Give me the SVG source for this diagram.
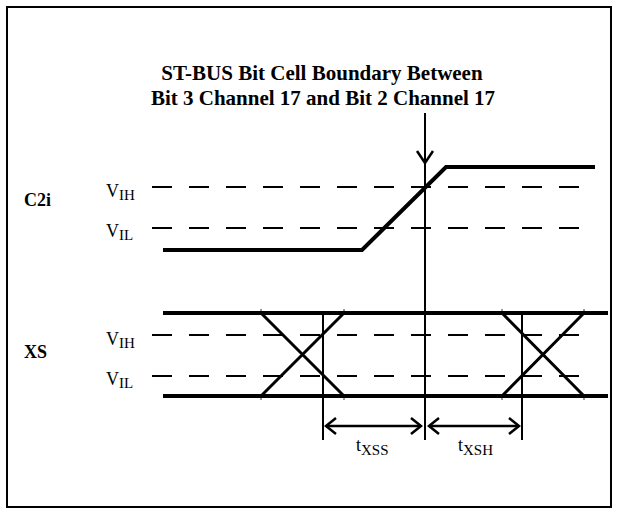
<svg xmlns="http://www.w3.org/2000/svg" width="619" height="521" viewBox="0 0 619 521">
<style>
.t{font-family:"Liberation Serif","Times New Roman",serif;fill:#000}
.b{font-weight:bold}
.sig{fill:none;stroke:#000;stroke-width:4;stroke-linejoin:miter}
.x{fill:none;stroke:#000;stroke-width:3}
.d{fill:none;stroke:#000;stroke-width:2;stroke-dasharray:20 17}
.thin{fill:none;stroke:#000;stroke-width:2}
.tick{fill:none;stroke:#000;stroke-width:0.8}
.ah{fill:none;stroke:#000;stroke-width:2.5}
</style>
<rect x="7" y="7" width="604" height="500" fill="#fff" stroke="#000" stroke-width="2"/>
<g id="title">
<text class="t b" x="322" y="80" font-size="21" text-anchor="middle">ST-BUS Bit Cell Boundary Between</text>
<text class="t b" x="323" y="105" font-size="21" text-anchor="middle">Bit 3 Channel 17 and Bit 2 Channel 17</text>
</g>
<g id="c2i">
<text class="t b" x="24" y="206" font-size="18">C2i</text>
<text class="t" x="106" y="197" font-size="18">V<tspan font-size="15" dy="3">IH</tspan></text>
<text class="t" x="106" y="237" font-size="18">V<tspan font-size="15" dy="3">IL</tspan></text>
<line class="d" x1="152" y1="187" x2="595" y2="187"/>
<line class="d" x1="152" y1="228" x2="595" y2="228"/>
<polyline class="sig" points="163,250 362,250 446,167 595,167"/>
</g>
<g id="xs">
<text class="t b" x="24" y="358" font-size="18">XS</text>
<text class="t" x="106" y="345" font-size="18">V<tspan font-size="15" dy="3">IH</tspan></text>
<text class="t" x="106" y="385" font-size="18">V<tspan font-size="15" dy="3">IL</tspan></text>
<line class="d" x1="152" y1="335" x2="595" y2="335"/>
<line class="d" x1="152" y1="376" x2="595" y2="376"/>
<line class="sig" x1="163" y1="313" x2="608" y2="313"/>
<line class="sig" x1="163" y1="396" x2="608" y2="396"/>
<path class="x" d="M261,313 L344,396 M261,396 L344,313 M502,313 L584,396 M502,396 L584,313"/>
<path class="tick" d="M261,309 V313 M344,309 V313 M502,309 V313 M584,309 V313 M261,396 V400 M344,396 V400 M502,396 V400 M584,396 V400"/>
</g>
<g id="connectors">
<line class="thin" x1="425" y1="113" x2="425" y2="440"/>
<polyline class="ah" points="417,151 425,163 433,151"/>
<line class="thin" x1="323" y1="313" x2="323" y2="440"/>
<line class="thin" x1="522" y1="313" x2="522" y2="440"/>
<line class="ah" x1="326" y1="426" x2="421" y2="426"/>
<polyline class="ah" points="336,418 326,426 336,434"/>
<polyline class="ah" points="411,418 421,426 411,434"/>
<line class="ah" x1="429" y1="426" x2="519" y2="426"/>
<polyline class="ah" points="439,418 429,426 439,434"/>
<polyline class="ah" points="509,418 519,426 509,434"/>
</g>
<g id="labels">
<text class="t" x="356" y="451" font-size="18">t<tspan font-size="15" dy="4">XSS</tspan></text>
<text class="t" x="458" y="451" font-size="18">t<tspan font-size="15" dy="4">XSH</tspan></text>
</g>
</svg>
